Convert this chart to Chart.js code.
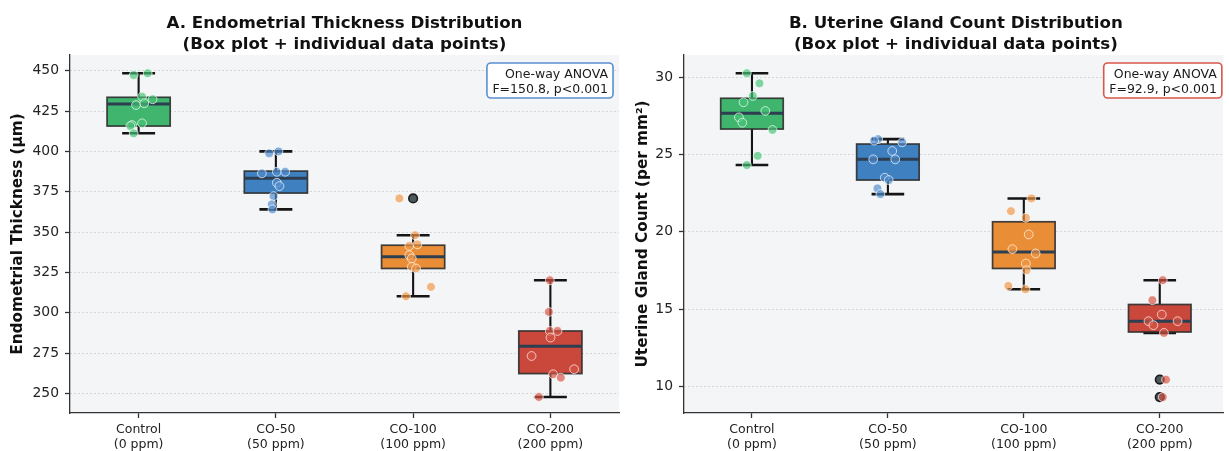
<!DOCTYPE html>
<html>
<head>
<meta charset="utf-8">
<script src="https://cdn.jsdelivr.net/npm/chart.js@4.4.1/dist/chart.umd.min.js"></script>
<style>
  html, body { margin: 0; padding: 0; background: #ffffff; width: 1229px; height: 451px; overflow: hidden; }
  canvas { position: absolute; top: 0; }
  #thickChart { left: 0; }
  #glandChart { left: 614px; }
</style>
</head>
<body>
<canvas id="thickChart" width="640" height="451"></canvas>
<canvas id="glandChart" width="615" height="451"></canvas>
<script>
// ---- Groups and axis labels ----
const groups = ['Control', 'CO-50', 'CO-100', 'CO-200'];
const doses = ['(0 ppm)', '(50 ppm)', '(100 ppm)', '(200 ppm)'];
const thickTicks = [250, 275, 300, 325, 350, 375, 400, 425, 450];
const glandTicks = [10, 15, 20, 25, 30];

// ---- Endometrial thickness (µm), individual animals ----
const thickControl = [447.3, 448.4, 433.9, 432.3, 428.7, 429.8, 416.3, 417.4, 415.7, 411.2];
const thickCO50    = [398.8, 400.0, 386.4, 387.4, 387.4, 380.6, 378.5, 372.3, 367.2, 364.1];
const thickCO100   = [370.9, 348.1, 341.5, 342.4, 335.7, 333.7, 328.5, 327.5, 316.1, 310.3];
const thickCO200   = [320.2, 300.6, 288.8, 288.8, 284.7, 273.3, 265.1, 262.0, 259.9, 247.9];

// horizontal jitter of the strip points (category units)
const thickJitterControl = [-0.036, 0.066, 0.025, 0.102, -0.019, 0.041, -0.048, 0.025, -0.060, -0.036];
const thickJitterCO50    = [-0.049, 0.019, -0.102, 0.007, 0.068, 0.007, 0.026, -0.017, -0.029, -0.025];
const thickJitterCO100   = [-0.100, 0.014, -0.028, 0.031, -0.028, -0.010, -0.010, 0.021, 0.130, -0.052];
const thickJitterCO200   = [-0.004, -0.011, -0.004, 0.052, 0.001, -0.137, 0.173, 0.020, 0.076, -0.084];

// box statistics per group
const thickWhiskerLo = [411.2, 364.1, 310.3, 247.9];
const thickQ1        = [415.7, 374.2, 327.5, 262.4];
const thickMedian    = [429.4, 383.3, 334.7, 279.3];
const thickQ3        = [433.5, 387.8, 341.9, 288.8];
const thickWhiskerHi = [448.4, 400.0, 348.1, 320.2];
const thickOutlierGroup = [2];
const thickOutlierValue = [370.9];

// ---- Uterine gland count (per mm²), individual animals ----
const glandControl = [30.26, 29.61, 28.79, 28.38, 27.82, 27.41, 27.06, 26.59, 24.92, 24.32];
const glandCO50    = [26.00, 25.90, 25.79, 25.23, 24.69, 24.69, 23.50, 23.35, 22.81, 22.44];
const glandCO100   = [22.16, 21.34, 20.91, 19.83, 18.88, 18.60, 17.95, 17.52, 16.50, 16.29];
const glandCO200   = [16.87, 15.58, 14.65, 14.22, 13.96, 14.22, 13.46, 10.44, 9.31];

const glandJitterControl = [-0.038, 0.055, 0.006, -0.062, 0.098, -0.096, -0.071, 0.151, 0.042, -0.038];
const glandJitterCO50    = [-0.072, -0.101, 0.105, 0.032, -0.108, 0.054, -0.023, 0.006, -0.077, -0.055];
const glandJitterCO100   = [0.056, -0.095, 0.015, 0.036, -0.084, 0.087, 0.015, 0.020, -0.114, 0.012];
const glandJitterCO200   = [0.022, -0.054, 0.015, -0.083, -0.047, 0.131, 0.031, 0.046, 0.022];

const glandWhiskerLo = [24.32, 22.44, 16.29, 13.46];
const glandQ1        = [26.65, 23.35, 17.63, 13.52];
const glandMedian    = [27.67, 24.69, 18.70, 14.22];
const glandQ3        = [28.64, 25.68, 20.65, 15.30];
const glandWhiskerHi = [30.26, 26.00, 22.16, 16.87];
const glandOutlierGroup = [3, 3];
const glandOutlierValue = [10.44, 9.31];

// ANOVA results shown in the corner boxes
const anovaF = ['150.8', '92.9'];
const anovaP = ['p<0.001', 'p<0.001'];

// ---- Styling ----
const FONT = "'DejaVu Sans', 'Liberation Sans', sans-serif";
const boxColors   = ['#3fb56e', '#3f80c0', '#e98e37', '#c9483b'];
const pointColors = ['rgba(72,196,120,0.68)', 'rgba(80,140,205,0.68)', 'rgba(240,150,70,0.68)', 'rgba(214,84,70,0.68)'];

function stripData(values, jitter, g) {
  return values.map((v, i) => ({ x: g + jitter[i], y: v }));
}

function buildDatasets(groupValues, groupJitter, outGroup, outValue) {
  const sets = groupValues.map((vals, g) => ({
    label: groups[g],
    data: stripData(vals, groupJitter[g], g),
    backgroundColor: pointColors[g],
    borderColor: 'rgba(255,255,255,0.75)',
    borderWidth: 0.9,
    pointRadius: 4.4,
    pointHoverRadius: 4.4
  }));
  // fliers sit underneath the strip points
  sets.push({
    label: 'outliers',
    data: outValue.map((v, i) => ({ x: outGroup[i], y: v })),
    backgroundColor: '#4b585c',
    borderColor: '#1c1c1c',
    borderWidth: 1.6,
    pointRadius: 4.3,
    pointHoverRadius: 4.3
  });
  return sets;
}

// plot-area background
const panelBg = {
  id: 'panelBg',
  beforeDraw(chart) {
    const { ctx, chartArea: a } = chart;
    ctx.save();
    ctx.fillStyle = '#f4f5f7';
    ctx.fillRect(a.left, a.top, a.right - a.left, a.bottom - a.top);
    ctx.restore();
  }
};

// box-and-whisker bodies drawn from the stats through the chart scales
const boxes = {
  id: 'boxes',
  beforeDatasetsDraw(chart, args, opts) {
    const { ctx, scales: { x, y } } = chart;
    const half = opts.width / 2, capHalf = opts.capWidth / 2;
    ctx.save();
    for (let g = 0; g < groups.length; g++) {
      const xl = x.getPixelForValue(g - half), xr = x.getPixelForValue(g + half);
      const xc = x.getPixelForValue(g);
      const cl = x.getPixelForValue(g - capHalf), cr = x.getPixelForValue(g + capHalf);
      const yq1 = y.getPixelForValue(opts.q1[g]), yq3 = y.getPixelForValue(opts.q3[g]);
      const ymed = y.getPixelForValue(opts.median[g]);
      const ylo = y.getPixelForValue(opts.lo[g]), yhi = y.getPixelForValue(opts.hi[g]);
      // whiskers
      ctx.strokeStyle = '#151515';
      ctx.lineWidth = 2.1;
      ctx.beginPath();
      ctx.moveTo(xc, yq3); ctx.lineTo(xc, yhi);
      ctx.moveTo(xc, yq1); ctx.lineTo(xc, ylo);
      ctx.stroke();
      // caps
      ctx.lineWidth = 2.6;
      ctx.beginPath();
      ctx.moveTo(cl, yhi); ctx.lineTo(cr, yhi);
      ctx.moveTo(cl, ylo); ctx.lineTo(cr, ylo);
      ctx.stroke();
      // box
      ctx.fillStyle = boxColors[g];
      ctx.fillRect(xl, yq3, xr - xl, yq1 - yq3);
      ctx.strokeStyle = 'rgba(45,45,45,0.9)';
      ctx.lineWidth = 1.7;
      ctx.strokeRect(xl, yq3, xr - xl, yq1 - yq3);
      // median
      ctx.strokeStyle = '#2c3e50';
      ctx.lineWidth = 3;
      ctx.beginPath();
      ctx.moveTo(xl, ymed); ctx.lineTo(xr, ymed);
      ctx.stroke();
    }
    ctx.restore();
  }
};

// two-line bold panel heading, centred over the category span
const panelTitle = {
  id: 'panelTitle',
  afterDraw(chart, args, opts) {
    const { ctx, scales: { x } } = chart;
    const cx = x.getPixelForValue(1.5);
    ctx.save();
    ctx.font = `bold 16.67px ${FONT}`;
    ctx.fillStyle = '#111111';
    ctx.textAlign = 'center';
    ctx.textBaseline = 'alphabetic';
    opts.lines.forEach((t, i) => ctx.fillText(t, cx, 28 + i * 21));
    ctx.restore();
  }
};

// corner statistics box
const statBox = {
  id: 'statBox',
  afterDraw(chart, args, opts) {
    const { ctx, chartArea: a, scales: { x } } = chart;
    const left = x.getPixelForValue(-0.5), right = x.getPixelForValue(3.5);
    const ax = left + 0.98 * (right - left);
    ctx.save();
    ctx.font = `12.5px ${FONT}`;
    const w = Math.max(...opts.lines.map(t => ctx.measureText(t).width));
    const bx = ax - w - 5.5, by = a.top + 8, bw = w + 10.5, bh = 35;
    ctx.beginPath();
    ctx.roundRect(bx, by, bw, bh, 4);
    ctx.fillStyle = 'rgba(255,255,255,0.92)';
    ctx.fill();
    ctx.lineWidth = 1.6;
    ctx.strokeStyle = opts.edge;
    ctx.stroke();
    ctx.fillStyle = '#1a1a1a';
    ctx.textAlign = 'right';
    ctx.textBaseline = 'alphabetic';
    opts.lines.forEach((t, i) => ctx.fillText(t, ax, by + 14.5 + i * 15));
    ctx.restore();
  }
};

function makeChart(canvasId, cfg) {
  return new Chart(document.getElementById(canvasId), {
    type: 'scatter',
    data: { datasets: buildDatasets(cfg.values, cfg.jitter, cfg.outGroup, cfg.outValue) },
    plugins: [panelBg, boxes, panelTitle, statBox],
    options: {
      responsive: false,
      animation: false,
      devicePixelRatio: 1,
      events: [],
      layout: { padding: { top: 55, right: cfg.padRight, left: 0, bottom: 0 } },
      plugins: {
        legend: { display: false },
        tooltip: { enabled: false },
        boxes: { width: 0.46, capWidth: 0.24, q1: cfg.q1, q3: cfg.q3, median: cfg.median, lo: cfg.lo, hi: cfg.hi },
        panelTitle: { lines: cfg.title },
        statBox: { lines: cfg.stat, edge: cfg.edge }
      },
      scales: {
        x: {
          type: 'linear',
          min: -0.5,
          max: cfg.xMax,
          afterBuildTicks: s => { s.ticks = groups.map((g, i) => ({ value: i })); },
          afterFit: s => { s.height = 38; },
          grid: { display: true, drawOnChartArea: false, drawTicks: true, tickLength: 5, tickColor: '#333', tickWidth: 1.3 },
          border: { display: true, color: '#333', width: 1.3 },
          ticks: {
            autoSkip: false, maxRotation: 0, minRotation: 0, padding: 4, color: '#222',
            font: { family: FONT, size: 12.5, lineHeight: 1.2 },
            callback: v => [groups[v], doses[v]]
          }
        },
        y: {
          type: 'linear',
          min: cfg.yMin,
          max: cfg.yMax,
          afterBuildTicks: s => { s.ticks = cfg.yTicks.map(v => ({ value: v })); },
          afterFit: s => { s.width = 70; },
          grid: { color: 'rgba(170,170,175,0.55)', lineWidth: 1, tickLength: 5, tickColor: '#333', tickWidth: 1.3, tickBorderDash: [] },
          border: { display: true, color: '#333', width: 1.3, dash: [1.5, 2.5] },
          ticks: { padding: 6, color: '#222', font: { family: FONT, size: 13.9 } },
          title: {
            display: true, text: cfg.yTitle, color: '#111',
            font: { family: FONT, size: 15.28, weight: 'bold' },
            padding: { top: cfg.titlePad, bottom: 0 }
          }
        }
      }
    }
  });
}

makeChart('thickChart', {
  values: [thickControl, thickCO50, thickCO100, thickCO200],
  jitter: [thickJitterControl, thickJitterCO50, thickJitterCO100, thickJitterCO200],
  outGroup: thickOutlierGroup, outValue: thickOutlierValue,
  q1: thickQ1, q3: thickQ3, median: thickMedian, lo: thickWhiskerLo, hi: thickWhiskerHi,
  yMin: 238, yMax: 459.7, yTicks: thickTicks,
  xMax: 3.5, padRight: 21,
  yTitle: 'Endometrial Thickness (μm)', titlePad: 8.8,
  title: ['A. Endometrial Thickness Distribution', '(Box plot + individual data points)'],
  stat: ['One-way ANOVA', `F=${anovaF[0]}, ${anovaP[0]}`], edge: '#5a8fd0'
});

makeChart('glandChart', {
  values: [glandControl, glandCO50, glandCO100, glandCO200],
  jitter: [glandJitterControl, glandJitterCO50, glandJitterCO100, glandJitterCO200],
  outGroup: glandOutlierGroup, outValue: glandOutlierValue,
  q1: glandQ1, q3: glandQ3, median: glandMedian, lo: glandWhiskerLo, hi: glandWhiskerHi,
  yMin: 8.28, yMax: 31.44, yTicks: glandTicks,
  xMax: 3.466, padRight: 0,
  yTitle: 'Uterine Gland Count (per mm²)', titlePad: 19.8,
  title: ['B. Uterine Gland Count Distribution', '(Box plot + individual data points)'],
  stat: ['One-way ANOVA', `F=${anovaF[1]}, ${anovaP[1]}`], edge: '#d9574a'
});
</script>
</body>
</html>
